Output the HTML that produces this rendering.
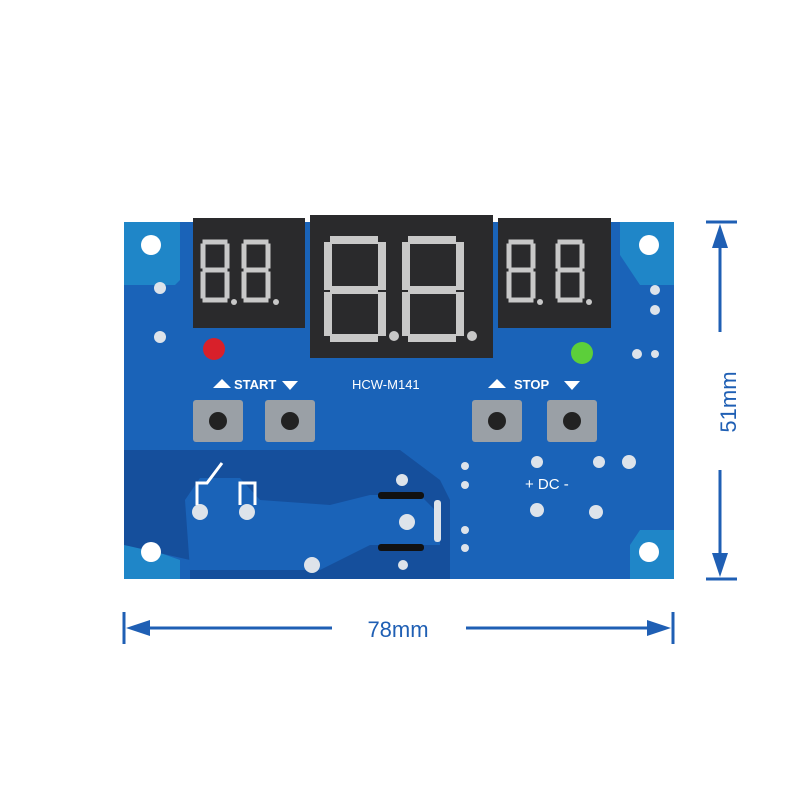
<!DOCTYPE html>
<html><head><meta charset="utf-8"><style>
html,body{margin:0;padding:0;background:#fff;width:800px;height:800px;overflow:hidden}
</style></head><body>
<svg width="800" height="800" viewBox="0 0 800 800" xmlns="http://www.w3.org/2000/svg" font-family="Liberation Sans, sans-serif">
<!-- board -->
<rect x="124" y="222" width="550" height="357" fill="#1f86c8"/>
<path d="M124 285 L175 285 L180 280 L180 222 L620 222 L620 255 L640 285 L674 285 L674 530 L640 530 L630 545 L630 579 L180 579 L180 560 L124 540 Z" fill="#1a63b8"/>
<!-- darker lower region -->
<path d="M124 450 L400 450 L440 480 L450 500 L450 579 L190 579 L190 560 L124 545 Z" fill="#154f9c"/>
<path d="M185 500 L200 478 L240 478 L260 500 L330 505 L370 495 L420 495 L440 515 L440 545 L370 545 L340 560 L320 570 L190 570 Z" fill="#1a63b8"/>
<!-- mounting holes -->
<g fill="#fff">
<circle cx="151" cy="245" r="10"/><circle cx="649" cy="245" r="10"/>
<circle cx="151" cy="552" r="10"/><circle cx="649" cy="552" r="10"/>
</g>
<!-- displays -->
<rect x="193" y="218" width="112" height="110" fill="#2a2a2c"/>
<rect x="310" y="215" width="183" height="143" fill="#2a2a2c"/>
<rect x="498" y="218" width="113" height="110" fill="#2a2a2c"/>
<g stroke="#c8c8c8" stroke-width="5" fill="none" stroke-linecap="square">
<path d="M205 242 h20 M203 246 v20 M227 246 v20 M205 270 h20 M203 274 v22 M227 274 v22 M205 300 h20"/>
<path d="M246 242 h20 M244 246 v20 M268 246 v20 M246 270 h20 M244 274 v22 M268 274 v22 M246 300 h20"/>
<path d="M511 242 h20 M509 246 v20 M533 246 v20 M511 270 h20 M509 274 v22 M533 274 v22 M511 300 h20"/>
<path d="M560 242 h20 M558 246 v20 M582 246 v20 M560 270 h20 M558 274 v22 M582 274 v22 M560 300 h20"/>
</g>
<g stroke="#c8c8c8" stroke-width="8" fill="none" stroke-linecap="square">
<path d="M334 240 h40 M328 246 v40 M382 246 v40 M334 290 h40 M328 296 v36 M382 296 v36 M334 338 h40"/>
<path d="M412 240 h40 M406 246 v40 M460 246 v40 M412 290 h40 M406 296 v36 M460 296 v36 M412 338 h40"/>
</g>
<g fill="#c8c8c8"><circle cx="234" cy="302" r="3"/><circle cx="276" cy="302" r="3"/><circle cx="540" cy="302" r="3"/><circle cx="589" cy="302" r="3"/><circle cx="394" cy="336" r="5"/><circle cx="472" cy="336" r="5"/></g>
<!-- LEDs -->
<circle cx="214" cy="349" r="11" fill="#d8202a"/>
<circle cx="582" cy="353" r="11" fill="#5ccf3a"/>
<!-- labels -->
<g fill="#fff" font-size="13" font-weight="bold">
<path d="M213 388 l9 -9 l9 9 Z"/><text x="234" y="389">START</text><path d="M282 381 h16 l-8 9 Z"/>
<text x="352" y="389" font-weight="normal" font-size="13">HCW-M141</text>
<path d="M488 388 l9 -9 l9 9 Z"/><text x="514" y="389">STOP</text><path d="M564 381 h16 l-8 9 Z"/>
<text x="525" y="489" font-size="15" font-weight="normal">+  DC  -</text>
</g>
<!-- buttons -->
<g>
<rect x="193" y="400" width="50" height="42" rx="3" fill="#9aa0a6"/><circle cx="218" cy="421" r="9" fill="#222"/>
<rect x="265" y="400" width="50" height="42" rx="3" fill="#9aa0a6"/><circle cx="290" cy="421" r="9" fill="#222"/>
<rect x="472" y="400" width="50" height="42" rx="3" fill="#9aa0a6"/><circle cx="497" cy="421" r="9" fill="#222"/>
<rect x="547" y="400" width="50" height="42" rx="3" fill="#9aa0a6"/><circle cx="572" cy="421" r="9" fill="#222"/>
</g>
<!-- pads -->
<g fill="#dde3ea">
<circle cx="160" cy="288" r="6"/><circle cx="160" cy="337" r="6"/><circle cx="655" cy="290" r="5"/><circle cx="655" cy="310" r="5"/><circle cx="637" cy="354" r="5"/><circle cx="655" cy="354" r="4"/>
<circle cx="537" cy="462" r="6"/><circle cx="599" cy="462" r="6"/><circle cx="629" cy="462" r="7"/>
<circle cx="537" cy="510" r="7"/><circle cx="596" cy="512" r="7"/>
<circle cx="200" cy="512" r="8"/><circle cx="247" cy="512" r="8"/><circle cx="402" cy="480" r="6"/><circle cx="407" cy="522" r="8"/><circle cx="312" cy="565" r="8"/><circle cx="403" cy="565" r="5"/>
<circle cx="465" cy="466" r="4"/><circle cx="465" cy="485" r="4"/><circle cx="465" cy="530" r="4"/><circle cx="465" cy="548" r="4"/>
<rect x="434" y="500" width="7" height="42" rx="3"/>
</g>
<rect x="378" y="492" width="46" height="7" rx="3" fill="#111"/>
<rect x="378" y="544" width="46" height="7" rx="3" fill="#111"/>
<path d="M197 505 v-22 h10 l15 -20 M240 505 v-22 h15 v22" stroke="#fff" stroke-width="3" fill="none"/>
<!-- dimensions -->
<g stroke="#1f5fb4" stroke-width="3" fill="#1f5fb4">
<line x1="706" y1="222" x2="737" y2="222"/><line x1="706" y1="579" x2="737" y2="579"/>
<line x1="720" y1="240" x2="720" y2="332"/><line x1="720" y1="470" x2="720" y2="562"/>
<path d="M720 224 l-8 24 h16 Z" stroke="none"/><path d="M720 577 l-8 -24 h16 Z" stroke="none"/>
<line x1="124" y1="612" x2="124" y2="644"/><line x1="673" y1="612" x2="673" y2="644"/>
<line x1="142" y1="628" x2="332" y2="628"/><line x1="466" y1="628" x2="655" y2="628"/>
<path d="M126 628 l24 -8 v16 Z" stroke="none"/><path d="M671 628 l-24 -8 v16 Z" stroke="none"/>
</g>
<text x="398" y="637" font-size="22" fill="#1f5fb4" text-anchor="middle">78mm</text>
<text transform="translate(736 402) rotate(-90)" font-size="22" fill="#1f5fb4" text-anchor="middle">51mm</text>
</svg>
</body></html>
